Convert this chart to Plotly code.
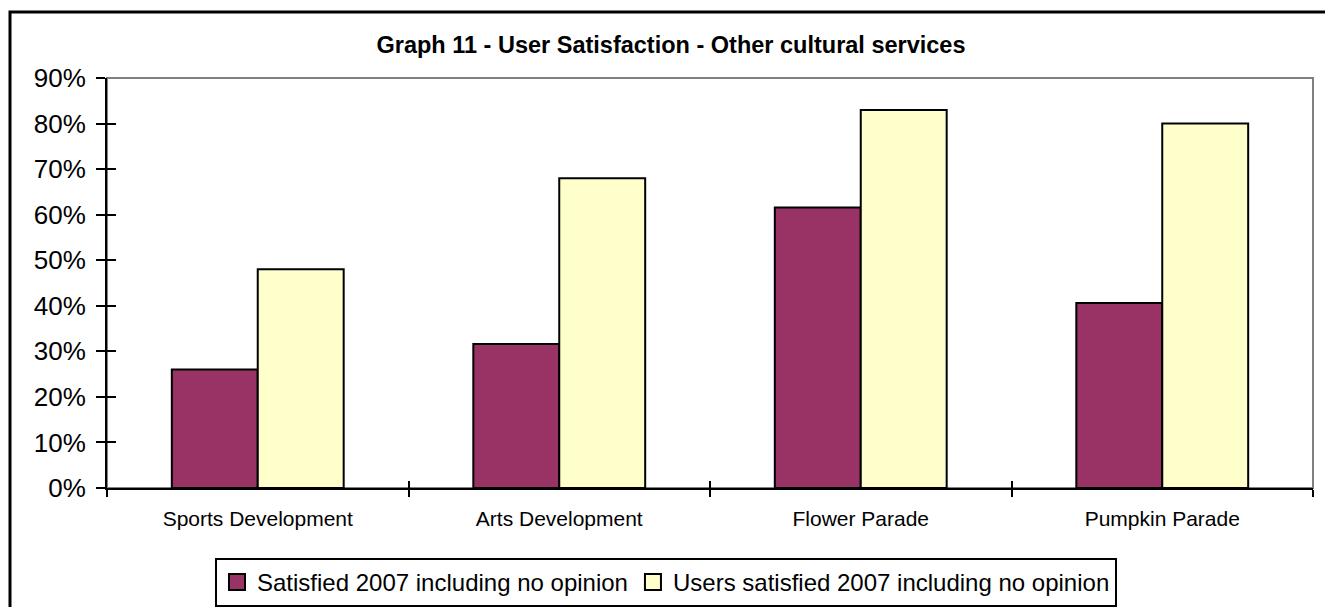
import plotly.graph_objects as go

# Survey results: share of respondents satisfied with each service
categories = ["Sports Development", "Arts Development", "Flower Parade", "Pumpkin Parade"]
satisfied_all = [0.26, 0.316, 0.616, 0.406]
satisfied_users = [0.48, 0.68, 0.83, 0.80]
series_names = ["Satisfied 2007 including no opinion", "Users satisfied 2007 including no opinion"]
series_colors = ["#993366", "#FFFFCC"]
y_ticks = [0, 0.1, 0.2, 0.3, 0.4, 0.5, 0.6, 0.7, 0.8, 0.9]

FONT = "Liberation Sans, Arial, sans-serif"
W, H = 1325, 607
ML, MR, MT, MB = 107, 12, 78, 119
PW, PH = W - ML - MR, H - MT - MB

fig = go.Figure()
for vals, name, color in zip([satisfied_all, satisfied_users], series_names, series_colors):
    fig.add_trace(go.Bar(
        x=categories, y=vals, name=name, showlegend=False,
        marker=dict(color=color, line=dict(color="black", width=2)),
    ))
# legend entries with larger square swatches
for name, color in zip(series_names, series_colors):
    fig.add_trace(go.Scatter(
        x=[None], y=[None], name=name, mode="markers",
        marker=dict(symbol="square", size=16, color=color, line=dict(color="black", width=2)),
    ))
# invisible companion trace so the overlay axes (inner tick halves) get drawn
fig.add_trace(go.Scatter(
    x=categories, y=satisfied_all, xaxis="x2", yaxis="y2",
    mode="markers", marker=dict(opacity=0), showlegend=False, hoverinfo="skip",
))

fig.update_layout(
    width=W, height=H,
    margin=dict(l=ML, r=MR, t=MT, b=MB, autoexpand=False),
    paper_bgcolor="white", plot_bgcolor="white",
    font=dict(family=FONT, color="black"),
    barmode="group", bargap=0.43, bargroupgap=0,
    title=dict(
        text="<b>Graph 11 - User Satisfaction - Other cultural services</b>",
        font=dict(size=23.5, family=FONT, color="black"),
        x=671 / W, xanchor="center", xref="container",
        y=1 - 45 / H, yanchor="middle", yref="container",
    ),
    xaxis=dict(
        type="category", range=[-0.5, 3.5],
        showline=True, linecolor="black", linewidth=2,
        ticks="outside", ticklen=7, tickwidth=2, tickcolor="black",
        tickson="boundaries", showgrid=False, zeroline=False,
        tickfont=dict(size=21, family=FONT), ticklabelstandoff=11,
    ),
    xaxis2=dict(
        type="category", range=[-0.5, 3.5], overlaying="x", anchor="y2",
        showline=False, ticks="inside", ticklen=7, tickwidth=2, tickcolor="black",
        tickson="boundaries", showgrid=False, zeroline=False, showticklabels=False,
    ),
    yaxis=dict(
        range=[0, 0.9], tickvals=y_ticks, tickformat=".0%",
        showline=True, linecolor="black", linewidth=2,
        ticks="outside", ticklen=9, tickwidth=2, tickcolor="black",
        showgrid=False, zeroline=False,
        tickfont=dict(size=26, family=FONT), ticklabelstandoff=5,
    ),
    yaxis2=dict(
        range=[0, 0.9], tickvals=y_ticks, overlaying="y", anchor="x2",
        showline=False, ticks="inside", ticklen=9, tickwidth=2, tickcolor="black",
        showgrid=False, zeroline=False, showticklabels=False,
    ),
    legend=dict(
        orientation="h", x=(666 - ML) / PW, xanchor="center",
        y=-70 / PH, yanchor="top",
        bordercolor="black", borderwidth=2, bgcolor="white",
        font=dict(size=24, family=FONT), traceorder="normal",
        itemwidth=30,
    ),
    shapes=[
        # grey frame around the plotting area (left/bottom covered by the axes)
        dict(type="rect", xref="paper", yref="paper", x0=0, y0=0, x1=1, y1=1,
             line=dict(color="#808080", width=2), layer="below"),
        # outer chart border
        dict(type="rect", xref="paper", yref="paper",
             x0=-(ML - 10) / PW, y0=-0.6, x1=1.2, y1=1 + (MT - 12) / PH,
             line=dict(color="black", width=3), layer="below"),
    ],
)

fig.write_html("out.html")
